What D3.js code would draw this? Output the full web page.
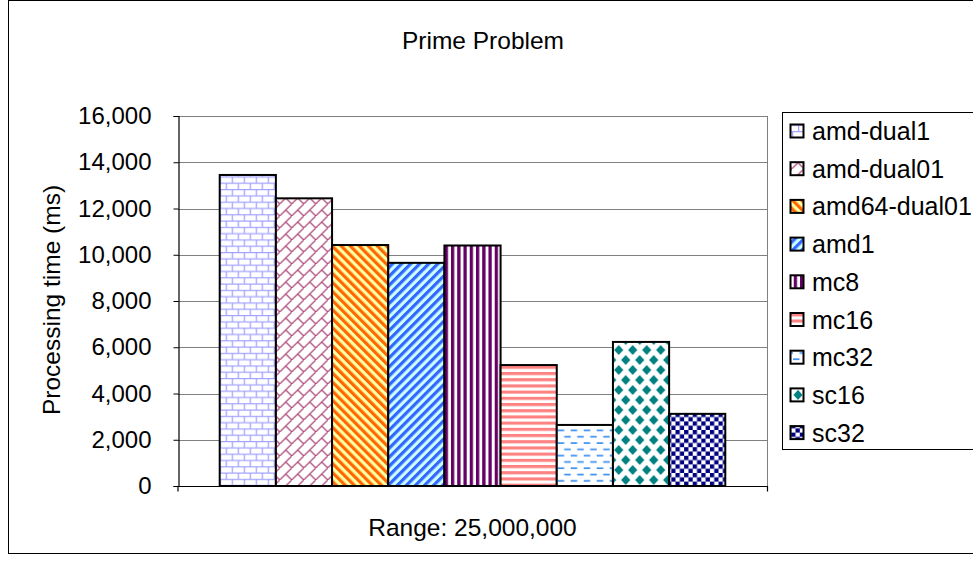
<!DOCTYPE html>
<html>
<head>
<meta charset="utf-8">
<script src="https://cdn.jsdelivr.net/npm/d3@7/dist/d3.min.js"></script>
<style>
  body { margin: 0; background: #fff; }
  text { font-family: "Liberation Sans", Arial, sans-serif; fill: #000; }
</style>
</head>
<body>
<svg id="chart" width="973" height="562"></svg>
<script>
// ---- data ----
const categories = ["Range: 25,000,000"];
const seriesNames = ["amd-dual1", "amd-dual01", "amd64-dual01", "amd1", "mc8", "mc16", "mc32", "sc16", "sc32"];
const seriesValues = [13450, 12440, 10420, 9650, 10400, 5230, 2640, 6230, 3120];
const yTickValues = [0, 2000, 4000, 6000, 8000, 10000, 12000, 14000, 16000];
const chartTitle = "Prime Problem";
const yAxisTitle = "Processing time (ms)";

// ---- layout ----
const W = 973, H = 562;
const plot = { left: 178, right: 767, top: 116, bottom: 486 };
const FONT = 24.5;

const svg = d3.select("#chart");
const defs = svg.append("defs");

// ---- fill patterns, one per series ----
function pat(id, w, h, bg, transform) {
  const p = defs.append("pattern").attr("id", id)
    .attr("patternUnits", "userSpaceOnUse").attr("width", w).attr("height", h);
  if (transform) p.attr("patternTransform", transform);
  p.append("rect").attr("width", w).attr("height", h).attr("fill", bg);
  return p;
}
// brick
{
  const p = pat("p0", 12, 12.6, "#fff");
  p.append("path").attr("d", "M0,0.6H12M0,6.9H12M0.6,0.6V6.9M6.6,6.9V12.6")
    .attr("stroke", "#a3a3ff").attr("stroke-width", 1.3).attr("fill", "none");
}
// diagonal brick
{
  const p = pat("p1", 12, 12, "#fff");
  p.append("path").attr("d", "M-1,13L13,-1M6,6L12,12")
    .attr("stroke", "#b0507e").attr("stroke-width", 1.3).attr("fill", "none");
}
// wide downward diagonal
{
  const p = pat("p2", 6.4, 10, "#ffffa6", "rotate(-45)");
  p.append("rect").attr("width", 3.2).attr("height", 10).attr("fill", "#ff6600");
}
// wide upward diagonal
{
  const p = pat("p3", 6.4, 10, "#ccffff", "rotate(45)");
  p.append("rect").attr("width", 3.2).attr("height", 10).attr("fill", "#3366ff");
}
// vertical stripes
{
  const p = pat("p4", 6.25, 10, "#fff");
  p.append("rect").attr("width", 3.3).attr("height", 10).attr("fill", "#660066");
}
// horizontal stripes
{
  const p = pat("p5", 10, 6.2, "#fff");
  p.append("rect").attr("width", 10).attr("height", 3.1).attr("fill", "#ff8282");
}
// dashed horizontal
{
  const p = pat("p6", 13, 12.6, "#fff");
  p.append("path").attr("d", "M0,2H6.5M6.5,8.3H13")
    .attr("stroke", "#3b8fef").attr("stroke-width", 1.6).attr("fill", "none");
}
// solid diamond
{
  const p = pat("p7", 14, 20, "#fff");
  const dia = (cx, cy) => `M${cx - 4.6},${cy}L${cx},${cy - 5}L${cx + 4.6},${cy}L${cx},${cy + 5}Z`;
  p.append("path").attr("d", dia(0, 0) + dia(14, 0) + dia(0, 20) + dia(14, 20) + dia(7, 10))
    .attr("fill", "#008080");
}
// small checkerboard
{
  const p = pat("p8", 8.6, 8.6, "#fff");
  p.append("rect").attr("width", 4.3).attr("height", 4.3).attr("fill", "#000080");
  p.append("rect").attr("x", 4.3).attr("y", 4.3).attr("width", 4.3).attr("height", 4.3).attr("fill", "#000080");
}
const fills = seriesNames.map((_, i) => `url(#p${i})`);

// ---- background and outer frame ----
svg.append("rect").attr("width", W).attr("height", H).attr("fill", "#fff");
svg.append("rect").attr("x", 8.5).attr("y", 0.5).attr("width", 990).attr("height", 553)
  .attr("fill", "none").attr("stroke", "#000").attr("stroke-width", 1);

// ---- scales ----
const y = d3.scaleLinear().domain([0, 16000]).range([plot.bottom, plot.top]);
const x0 = d3.scaleBand().domain(categories).range([plot.left, plot.right])
  .paddingInner(0).paddingOuter(0.0825);
const x1 = d3.scaleBand().domain(seriesNames).range([0, x0.bandwidth()]).padding(0);

// ---- gridlines ----
svg.append("g").selectAll("line").data(yTickValues.filter(v => v > 0)).join("line")
  .attr("x1", plot.left).attr("x2", plot.right)
  .attr("y1", d => Math.round(y(d)) + 0.5).attr("y2", d => Math.round(y(d)) + 0.5)
  .attr("stroke", "#808080").attr("stroke-width", 1);
// right edge of plot area
svg.append("line").attr("x1", plot.right + 0.5).attr("x2", plot.right + 0.5)
  .attr("y1", plot.top).attr("y2", plot.bottom).attr("stroke", "#808080");

// ---- bars ----
const g = svg.append("g").attr("transform", `translate(${x0(categories[0])},0)`);
g.selectAll("rect").data(seriesValues).join("rect")
  .attr("x", (d, i) => x1(seriesNames[i]))
  .attr("y", d => y(d))
  .attr("width", x1.bandwidth())
  .attr("height", d => y(0) - y(d))
  .attr("fill", (d, i) => fills[i])
  .attr("stroke", "#000").attr("stroke-width", 2);

// ---- axes ----
const yAxis = d3.axisLeft(y).tickValues(yTickValues)
  .tickFormat(d3.format(",")).tickSize(5).tickPadding(22);
const ya = svg.append("g").attr("transform", `translate(${plot.left + 0.5},0)`).call(yAxis);
ya.select(".domain").attr("stroke", "#000").attr("stroke-width", 1.2);
ya.selectAll(".tick line").attr("stroke", "#000");
ya.selectAll("text").attr("font-size", 24).attr("font-family", "Liberation Sans, Arial, sans-serif")
  .attr("fill", "#000");

const xAxis = d3.axisBottom(x0).tickSize(5).tickFormat("");
const xa = svg.append("g").attr("transform", `translate(0,${plot.bottom + 0.5})`).call(xAxis);
xa.select(".domain").attr("stroke", "#000").attr("stroke-width", 1.2)
  .attr("d", `M${plot.left},5V0H${plot.right + 0.5}V5`);
xa.selectAll(".tick").remove();

// category label
svg.append("text").attr("x", x0(categories[0]) + x0.bandwidth() / 2).attr("y", 536)
  .attr("text-anchor", "middle").attr("font-size", FONT).text(categories[0]);

// ---- titles ----
svg.append("text").attr("x", 483).attr("y", 49).attr("text-anchor", "middle")
  .attr("font-size", FONT).text(chartTitle);
svg.append("text").attr("transform", "translate(60,300) rotate(-90)")
  .attr("text-anchor", "middle").attr("font-size", FONT).text(yAxisTitle);

// ---- legend ----
const lg = svg.append("g");
lg.append("rect").attr("x", 782.5).attr("y", 112.5).attr("width", 200).attr("height", 337)
  .attr("fill", "#fff").attr("stroke", "#000").attr("stroke-width", 1);
const items = lg.selectAll("g.item").data(seriesNames).join("g").attr("class", "item")
  .attr("transform", (d, i) => `translate(0,${131 + i * 37.7})`);
items.append("rect").attr("x", 790.5).attr("y", -6.5).attr("width", 13).attr("height", 13)
  .attr("fill", (d, i) => fills[i]).attr("stroke", "#000").attr("stroke-width", 2);
items.append("text").attr("x", 812).attr("y", 9).attr("font-size", 25).text(d => d);
</script>
</body>
</html>
